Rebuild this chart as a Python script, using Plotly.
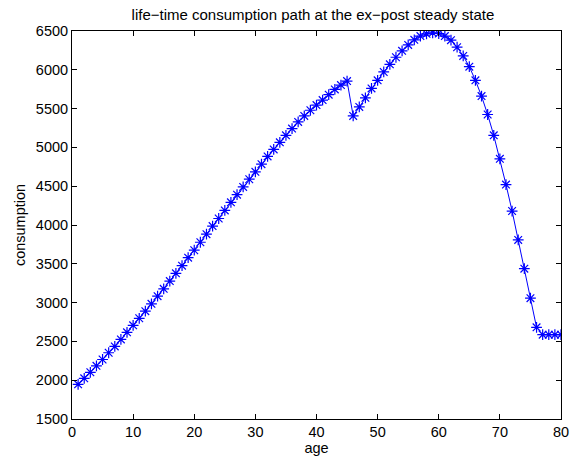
import plotly.graph_objects as go

age = list(range(1, 81))
consumption = [
    1947, 2024, 2102, 2185, 2267, 2354, 2435, 2526, 2617, 2707,
    2798, 2889, 2984, 3083, 3178, 3277, 3377, 3476, 3579, 3675,
    3778, 3882, 3986, 4084, 4188, 4292, 4391, 4491, 4590, 4685,
    4784, 4884, 4974, 5065, 5155, 5242, 5328, 5406, 5479, 5545,
    5610, 5680, 5747, 5803, 5855, 5406, 5522, 5639, 5760, 5864,
    5972, 6071, 6162, 6244, 6321, 6386, 6434, 6464, 6477, 6468,
    6434, 6382, 6291, 6179, 6040, 5864, 5661, 5424, 5155, 4853,
    4521, 4180, 3808, 3437, 3057, 2681, 2587, 2587, 2587, 2587,
]
x_ticks = [0, 10, 20, 30, 40, 50, 60, 70, 80]
y_ticks = [1500, 2000, 2500, 3000, 3500, 4000, 4500, 5000, 5500, 6000, 6500]

fig = go.Figure()
fig.add_trace(go.Scatter(
    x=age, y=consumption, mode="lines+markers",
    line=dict(color="#0000ff", width=1),
    marker=dict(symbol="asterisk-open", size=9, color="#0000ff",
                line=dict(color="#0000ff", width=1.2)),
    showlegend=False,
))

font = "Liberation Sans, Arial, Helvetica, sans-serif"
fs = 14.5
axis_common = dict(
    showgrid=False, zeroline=False, showline=True, linecolor="black",
    linewidth=1, mirror="ticks", ticks="inside", ticklen=5,
    tickcolor="black", tickfont=dict(size=fs, color="black", family=font),
    automargin=False,
)
fig.update_layout(
    width=571, height=463,
    margin=dict(l=72, r=10, t=31, b=44),
    paper_bgcolor="white", plot_bgcolor="white",
    font=dict(family=font, size=fs, color="black"),
    title=dict(text="life\u2212time consumption path at the ex\u2212post steady state",
               x=0.548, xanchor="center", y=0.969, yanchor="middle",
               font=dict(size=15, family=font, color="black")),
    xaxis=dict(range=[0, 80], tickvals=x_ticks,
               title=dict(text="age", standoff=2, font=dict(size=fs)),
               **axis_common),
    yaxis=dict(range=[1500, 6500], tickvals=y_ticks,
               title=dict(text="consumption", standoff=6, font=dict(size=fs)),
               **axis_common),
)
fig.write_html(
    "out.html",
    config={"displayModeBar": False},
    post_script="document.body.style.margin='0';document.body.style.overflow='hidden';",
)
